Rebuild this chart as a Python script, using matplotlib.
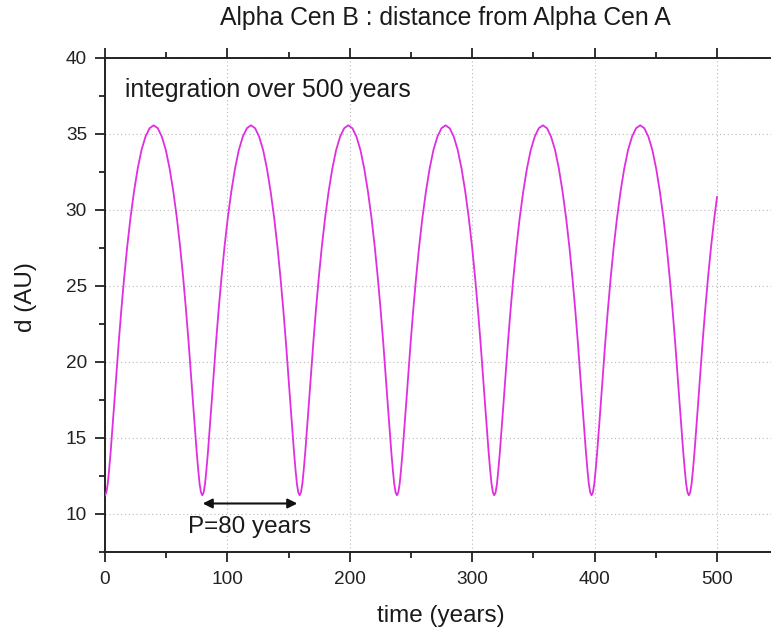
import matplotlib
matplotlib.use('Agg')
import matplotlib.pyplot as plt
from matplotlib.ticker import MultipleLocator

plt.rcParams['font.family'] = ['Liberation Sans', 'DejaVu Sans']

# distance of Alpha Cen B from Alpha Cen A (one row per orbit)
time_yr = [
    0.0, 1.1, 2.2, 3.3, 4.6, 6.0, 7.6, 9.3, 11.2, 13.3, 15.6, 18.1, 20.8, 23.7, 26.7, 29.8, 33.1, 36.4,
    39.75, 43.1, 46.4, 49.7, 52.8, 55.8, 58.7, 61.4, 63.9, 66.2, 68.3, 70.2, 71.9, 73.5, 74.9, 76.2, 77.3, 78.4,
    79.5, 80.6, 81.7, 82.8, 84.1, 85.5, 87.1, 88.8, 90.7, 92.8, 95.1, 97.6, 100.3, 103.2, 106.2, 109.3, 112.6, 115.9,
    119.25, 122.6, 125.9, 129.2, 132.3, 135.3, 138.2, 140.9, 143.4, 145.7, 147.8, 149.7, 151.4, 153.0, 154.4, 155.7, 156.8, 157.9,
    159.0, 160.1, 161.2, 162.3, 163.6, 165.0, 166.6, 168.3, 170.2, 172.3, 174.6, 177.1, 179.8, 182.7, 185.7, 188.8, 192.1, 195.4,
    198.75, 202.1, 205.4, 208.7, 211.8, 214.8, 217.7, 220.4, 222.9, 225.2, 227.3, 229.2, 230.9, 232.5, 233.9, 235.2, 236.3, 237.4,
    238.5, 239.6, 240.7, 241.8, 243.1, 244.5, 246.1, 247.8, 249.7, 251.8, 254.1, 256.6, 259.3, 262.2, 265.2, 268.3, 271.6, 274.9,
    278.25, 281.6, 284.9, 288.2, 291.3, 294.3, 297.2, 299.9, 302.4, 304.7, 306.8, 308.7, 310.4, 312.0, 313.4, 314.7, 315.8, 316.9,
    318.0, 319.1, 320.2, 321.3, 322.6, 324.0, 325.6, 327.3, 329.2, 331.3, 333.6, 336.1, 338.8, 341.7, 344.7, 347.8, 351.1, 354.4,
    357.75, 361.1, 364.4, 367.7, 370.8, 373.8, 376.7, 379.4, 381.9, 384.2, 386.3, 388.2, 389.9, 391.5, 392.9, 394.2, 395.3, 396.4,
    397.5, 398.6, 399.7, 400.8, 402.1, 403.5, 405.1, 406.8, 408.7, 410.8, 413.1, 415.6, 418.3, 421.2, 424.2, 427.3, 430.6, 433.9,
    437.25, 440.6, 443.9, 447.2, 450.3, 453.3, 456.2, 458.9, 461.4, 463.7, 465.8, 467.7, 469.4, 471.0, 472.4, 473.7, 474.8, 475.9,
    477.0, 478.1, 479.2, 480.3, 481.6, 483.0, 484.6, 486.3, 488.2, 490.3, 492.6, 495.1, 497.8, 500.0,
]
d_au = [
    11.23, 11.42, 11.97, 12.86, 14.08, 15.58, 17.32, 19.24, 21.29, 23.40, 25.51, 27.56, 29.48, 31.22, 32.72, 33.94, 34.83, 35.38,
    35.57, 35.38, 34.83, 33.94, 32.72, 31.22, 29.48, 27.56, 25.51, 23.40, 21.29, 19.24, 17.32, 15.58, 14.08, 12.86, 11.97, 11.42,
    11.23, 11.42, 11.97, 12.86, 14.08, 15.58, 17.32, 19.24, 21.29, 23.40, 25.51, 27.56, 29.48, 31.22, 32.72, 33.94, 34.83, 35.38,
    35.57, 35.38, 34.83, 33.94, 32.72, 31.22, 29.48, 27.56, 25.51, 23.40, 21.29, 19.24, 17.32, 15.58, 14.08, 12.86, 11.97, 11.42,
    11.23, 11.42, 11.97, 12.86, 14.08, 15.58, 17.32, 19.24, 21.29, 23.40, 25.51, 27.56, 29.48, 31.22, 32.72, 33.94, 34.83, 35.38,
    35.57, 35.38, 34.83, 33.94, 32.72, 31.22, 29.48, 27.56, 25.51, 23.40, 21.29, 19.24, 17.32, 15.58, 14.08, 12.86, 11.97, 11.42,
    11.23, 11.42, 11.97, 12.86, 14.08, 15.58, 17.32, 19.24, 21.29, 23.40, 25.51, 27.56, 29.48, 31.22, 32.72, 33.94, 34.83, 35.38,
    35.57, 35.38, 34.83, 33.94, 32.72, 31.22, 29.48, 27.56, 25.51, 23.40, 21.29, 19.24, 17.32, 15.58, 14.08, 12.86, 11.97, 11.42,
    11.23, 11.42, 11.97, 12.86, 14.08, 15.58, 17.32, 19.24, 21.29, 23.40, 25.51, 27.56, 29.48, 31.22, 32.72, 33.94, 34.83, 35.38,
    35.57, 35.38, 34.83, 33.94, 32.72, 31.22, 29.48, 27.56, 25.51, 23.40, 21.29, 19.24, 17.32, 15.58, 14.08, 12.86, 11.97, 11.42,
    11.23, 11.42, 11.97, 12.86, 14.08, 15.58, 17.32, 19.24, 21.29, 23.40, 25.51, 27.56, 29.48, 31.22, 32.72, 33.94, 34.83, 35.38,
    35.57, 35.38, 34.83, 33.94, 32.72, 31.22, 29.48, 27.56, 25.51, 23.40, 21.29, 19.24, 17.32, 15.58, 14.08, 12.86, 11.97, 11.42,
    11.23, 11.42, 11.97, 12.86, 14.08, 15.58, 17.32, 19.24, 21.29, 23.40, 25.51, 27.56, 29.48, 30.85,
]

# period marker between two successive minima
period_from, period_to, period_y = 79.8, 157.1, 10.69

fig = plt.figure(figsize=(7.71, 6.33), dpi=100)
# right spine falls outside the picture, as in the reference
ax = fig.add_axes([0.1362, 0.1280, 0.8811, 0.7804])

ax.plot(time_yr, d_au, color='#e02ee0', lw=1.3, zorder=3)

ax.set_xlim(0, 555)
ax.set_ylim(7.5, 40)
ax.xaxis.set_major_locator(MultipleLocator(100))
ax.xaxis.set_minor_locator(MultipleLocator(50))
ax.yaxis.set_major_locator(MultipleLocator(5))
ax.yaxis.set_minor_locator(MultipleLocator(2.5))
ax.tick_params(which='both', direction='out', width=1.3, colors='#222222', labelsize=13.7,
               top=True, labeltop=False, right=False)
ax.tick_params(axis='x', which='major', length=7, pad=7)
ax.tick_params(axis='y', which='major', length=7, pad=6)
ax.tick_params(which='minor', length=4)
for s in ('left', 'bottom', 'top'):
    ax.spines[s].set_linewidth(1.4)
    ax.spines[s].set_color('#222222')
ax.spines['right'].set_visible(False)
ax.grid(True, which='major', color='#b8b8b8', lw=0.8, ls=(0, (1, 2.5)))

ax.text(16.3, 37.43, 'integration over 500 years', fontsize=17.8, va='baseline', color='#1a1a1a')
ax.annotate('', xy=(period_to, period_y), xytext=(period_from, period_y),
            arrowprops=dict(arrowstyle='<|-|>', color='#111111', lw=1.5, mutation_scale=14,
                            shrinkA=0, shrinkB=0))
ax.text(67.8, 8.75, 'P=80 years', fontsize=17.5, va='baseline', color='#1a1a1a')

fig.text(445 / 771, 1 - 25 / 633, 'Alpha Cen B : distance from Alpha Cen A',
         fontsize=17.8, ha='center', va='baseline', color='#1a1a1a')
fig.text(441 / 771, 1 - 622 / 633, 'time (years)', fontsize=17.5, ha='center', va='baseline',
         color='#1a1a1a')
fig.text(26 / 771, 1 - 297 / 633, 'd (AU)', fontsize=17.5, ha='center', va='center',
         rotation=90, color='#1a1a1a')

fig.savefig('out.png', dpi=100)
